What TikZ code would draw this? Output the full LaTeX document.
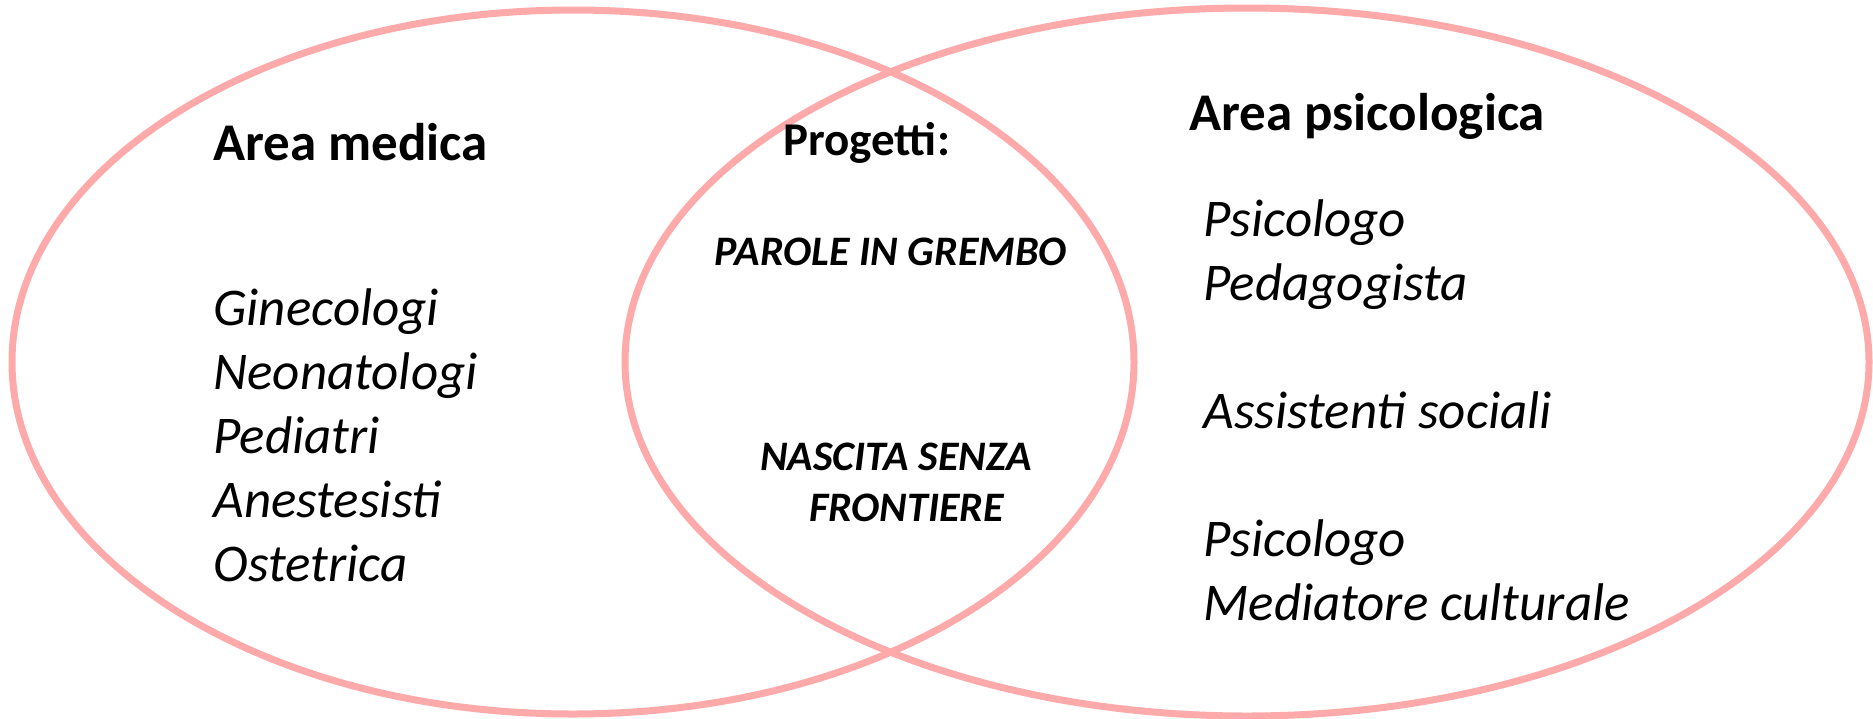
\documentclass[tikz,border=0pt]{standalone}
\usepackage{fontspec}
\setmainfont{Carlito}
\usepackage{xcolor}
\usetikzlibrary{shapes.geometric,positioning}
\definecolor{vennpink}{RGB}{255,170,170}
\tikzset{
  venn/.style={draw=vennpink, line width=3.5pt, ellipse, inner sep=0pt},
  areatitle/.style={anchor=base west, inner sep=0pt, font=\fontsize{26.5}{32}\selectfont\bfseries},
  member/.style={anchor=base west, inner sep=0pt, font=\fontsize{26.5}{32}\selectfont\itshape},
  project/.style={anchor=base, inner sep=0pt, align=center, font=\fontsize{21}{25.5}\selectfont\bfseries\itshape}
}
\begin{document}
\begin{tikzpicture}[x=0.5pt, y=-0.5pt]
    \useasboundingbox (0,0) rectangle (1873,718);
    % the two areas
    \node [venn, minimum width=561pt, minimum height=352pt] (medica) at (573,362) {};
    \node [venn, minimum width=622pt, minimum height=354pt] (psico) at (1247,362) {};

    \node [areatitle] (titlemed) at (213,160) {Area medica};
    \node [areatitle] (titlepsi) at (1189,130) {Area psicologica};

    % professionals
    \foreach \name/\y [count=\i] in {Ginecologi/325, Neonatologi/389, Pediatri/453, Anestesisti/517, Ostetrica/581}
        \node [member] (med\i) at (213,\y) {\name};
    \foreach \name/\y [count=\i] in {Psicologo/236, Pedagogista/300, Assistenti sociali/428, Psicologo/556, Mediatore culturale/620}
        \node [member] (psi\i) at (1203,\y) {\name};

    % shared projects
    \node [anchor=base west, inner sep=0pt, font=\fontsize{23.5}{28}\selectfont\bfseries] (progetti) at (783,155) {Progetti:};
    \node [project] (parole) at (891,265) {PAROLE IN GREMBO};
    \node [project] (nascita) at (896,521) {NASCITA SENZA\\\hspace*{10.5pt}FRONTIERE};
\end{tikzpicture}
\end{document}
